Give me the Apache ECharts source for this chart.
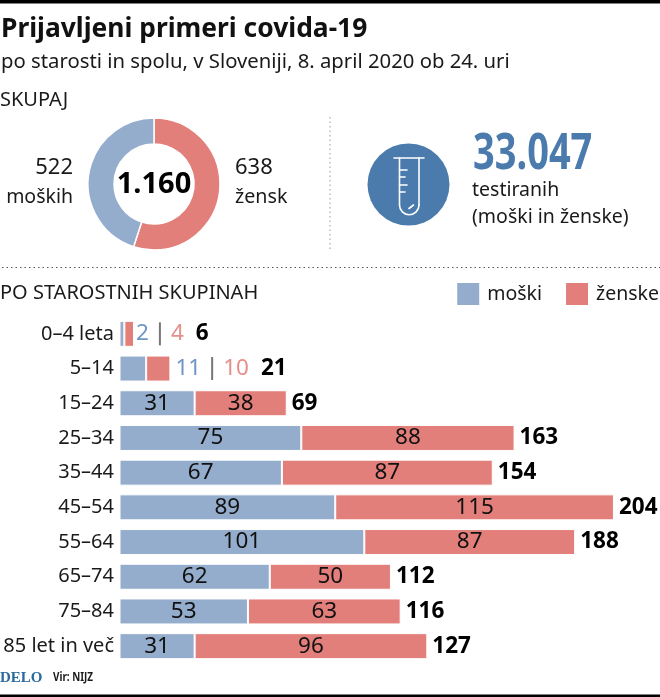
<!DOCTYPE html>
<html>
<head>
<meta charset="utf-8">
<style>
  html, body { margin: 0; padding: 0; background: #fff; }
  #chart { width: 660px; height: 697px; }
</style>
</head>
<body>
<div id="chart"></div>
<script src="https://cdn.jsdelivr.net/npm/echarts@6/dist/echarts.min.js"></script>
<script>
const ageGroups = ['0–4 leta', '5–14', '15–24', '25–34', '35–44', '45–54', '55–64', '65–74', '75–84', '85 let in več'];
const menCases = [2, 11, 31, 75, 67, 89, 101, 62, 53, 31];
const womenCases = [4, 10, 38, 88, 87, 115, 87, 50, 63, 96];
const rowTotals = [6, 21, 69, 163, 154, 204, 188, 112, 116, 127];
const sexTotals = [638, 522];
const sexNames = ['ženske', 'moški'];
const totalLabel = '1.160';
const testedLabel = '33.047';

const BLUE = '#95ADCD';
const RED = '#E27F7B';
const DEEP = '#4A7BAC';
const INK = '#1A1A1A';
const FONT = '"Noto Sans", sans-serif';
const SMALL_ROWS = 2; // rows whose numbers sit outside the bars

function text(x, y, str, size, opts) {
  opts = opts || {};
  return {
    type: 'text', x: x, y: y, silent: true,
    scaleX: opts.scaleX || 1,
    style: {
      text: str, fontSize: size, fontFamily: opts.family || FONT,
      fontWeight: opts.weight || 'normal', fill: opts.fill || INK,
      align: opts.align || 'left', verticalAlign: 'middle'
    }
  };
}

function dotted(x1, y1, x2, y2, color) {
  return {
    type: 'line', silent: true,
    shape: { x1: x1, y1: y1, x2: x2, y2: y2 },
    style: { stroke: color, lineWidth: 1, lineDash: [1.5, 3] }
  };
}

const tubeLine = { stroke: '#fff', lineWidth: 1.6, fill: 'none', lineCap: 'round' };
function tubeTick(y, x2) {
  return { type: 'line', shape: { x1: 399.5, y1: y, x2: x2, y2: y }, style: tubeLine };
}
const tube = {
  type: 'group', silent: true,
  children: [
    { type: 'circle', shape: { cx: 408.5, cy: 184.5, r: 41 }, style: { fill: DEEP } },
    { type: 'line', shape: { x1: 394, y1: 158, x2: 424, y2: 158 }, style: tubeLine },
    { type: 'line', shape: { x1: 399.5, y1: 158, x2: 399.5, y2: 205 }, style: tubeLine },
    { type: 'line', shape: { x1: 419, y1: 158, x2: 419, y2: 205 }, style: tubeLine },
    { type: 'arc', shape: { cx: 409.25, cy: 205, r: 9.75, startAngle: 0, endAngle: Math.PI, clockwise: true }, style: tubeLine },
    tubeTick(170, 407), tubeTick(177, 405), tubeTick(185, 407), tubeTick(192, 405),
    { type: 'line', shape: { x1: 409, y1: 208.5, x2: 413.5, y2: 205 }, style: tubeLine }
  ]
};

const overlay = [
  { type: 'rect', silent: true, shape: { x: 0, y: 0, width: 660, height: 3.5 }, style: { fill: '#000' } },
  { type: 'rect', silent: true, shape: { x: 0, y: 694.5, width: 660, height: 2.5 }, style: { fill: '#000' } },
  text(1, 29, 'Prijavljeni primeri covida-19', 26.4, { weight: 'bold', fill: '#111' }),
  text(1, 62, 'po starosti in spolu, v Sloveniji, 8. april 2020 ob 24. uri', 20.3),
  text(0, 100, 'SKUPAJ', 20),
  text(73, 168, String(sexTotals[1]), 22, { align: 'right' }),
  text(73, 197, 'moških', 19.5, { align: 'right' }),
  text(235, 168, String(sexTotals[0]), 22),
  text(235, 197, 'žensk', 19.7),
  text(154, 185, totalLabel, 29, { weight: 'bold', align: 'center', fill: '#000' }),
  dotted(330, 117, 330, 250, '#999'),
  dotted(2, 267.5, 660, 267.5, '#555'),
  tube,
  text(473, 155, testedLabel, 50, { weight: 'bold', fill: DEEP, scaleX: 0.76 }),
  text(472, 190, 'testiranih', 19.5),
  text(472, 217, '(moški in ženske)', 19.5),
  text(0, 293.5, 'PO STAROSTNIH SKUPINAH', 20),
  text(0, 678, 'DELO', 15, { weight: 'bold', fill: '#2A6A9E', family: '"Liberation Serif", serif' }),
  text(53, 678, 'Vir: NIJZ', 11.5, { weight: 'bold', scaleX: 0.86 })
];

function insideLabel(params) {
  return params.dataIndex < SMALL_ROWS ? '' : params.seriesName === 'moški' ? menCases[params.dataIndex] : womenCases[params.dataIndex];
}

function totalsLabel(params) {
  const i = params.dataIndex;
  if (i < SMALL_ROWS) {
    return '{m|' + menCases[i] + '}{sep|}{f|' + womenCases[i] + '}{s|' + rowTotals[i] + '}';
  }
  return '{t|' + rowTotals[i] + '}';
}

const option = {
  animation: false,
  backgroundColor: '#fff',
  textStyle: { fontFamily: FONT },
  graphic: overlay,
  legend: {
    data: [{ name: 'moški', icon: 'rect' }, { name: 'ženske', icon: 'rect' }],
    right: 1, top: 281, padding: 0,
    itemWidth: 24, itemHeight: 24, itemGap: 22,
    textStyle: { fontSize: 19.5, color: INK, fontFamily: FONT, padding: [0, 0, 0, 2] },
    selectedMode: false
  },
  grid: { left: 119.5, right: 0, top: 316.5, height: 347 },
  xAxis: { type: 'value', min: 0, max: 223, show: false },
  yAxis: {
    type: 'category', data: ageGroups, inverse: true,
    axisLine: { show: false }, axisTick: { show: false },
    axisLabel: { fontSize: 20, color: INK, margin: 5.5, fontFamily: FONT }
  },
  series: [
    {
      name: 'moški', type: 'bar', stack: 'cases', data: menCases, barWidth: 26,
      itemStyle: { color: BLUE, borderColor: '#fff', borderWidth: 1 },
      label: { show: true, position: 'inside', formatter: insideLabel, fontSize: 22.5, color: '#111' }
    },
    {
      name: 'ženske', type: 'bar', stack: 'cases', data: womenCases,
      itemStyle: { color: RED, borderColor: '#fff', borderWidth: 1 },
      label: { show: true, position: 'inside', formatter: insideLabel, fontSize: 22.5, color: '#111' }
    },
    {
      name: 'skupaj', type: 'bar', stack: 'cases',
      data: rowTotals.map((v, i) => ({ value: 0, label: { distance: i === 0 ? 1 : i === 1 ? 4 : 5 } })),
      itemStyle: { color: 'transparent' }, silent: true,
      label: {
        show: true, position: 'right', formatter: totalsLabel,
        rich: {
          t: { fontSize: 22.5, fontWeight: 'bold', color: '#000', fontFamily: FONT },
          s: { fontSize: 22.5, fontWeight: 'bold', color: '#000', fontFamily: FONT, padding: [0, 0, 0, 12] },
          m: { fontSize: 22.5, color: '#6F95C2', fontFamily: FONT, padding: [0, 10, 0, 1] },
          f: { fontSize: 22.5, color: '#E58F8A', fontFamily: FONT, padding: [0, 0, 0, 10] },
          sep: { width: 2, height: 23, backgroundColor: '#777' }
        }
      }
    },
    {
      type: 'pie', center: [154, 184], radius: [40, 66], startAngle: 90, clockwise: true,
      data: sexNames.map((n, i) => ({ name: n, value: sexTotals[i] })),
      label: { show: false }, labelLine: { show: false }, silent: true,
      itemStyle: {
        borderColor: '#fff', borderWidth: 1.5,
        color: params => (params.dataIndex === 0 ? RED : BLUE)
      }
    }
  ]
};

const chart = echarts.init(document.getElementById('chart'), null, { renderer: 'canvas' });
chart.setOption(option);
</script>
</body>
</html>
